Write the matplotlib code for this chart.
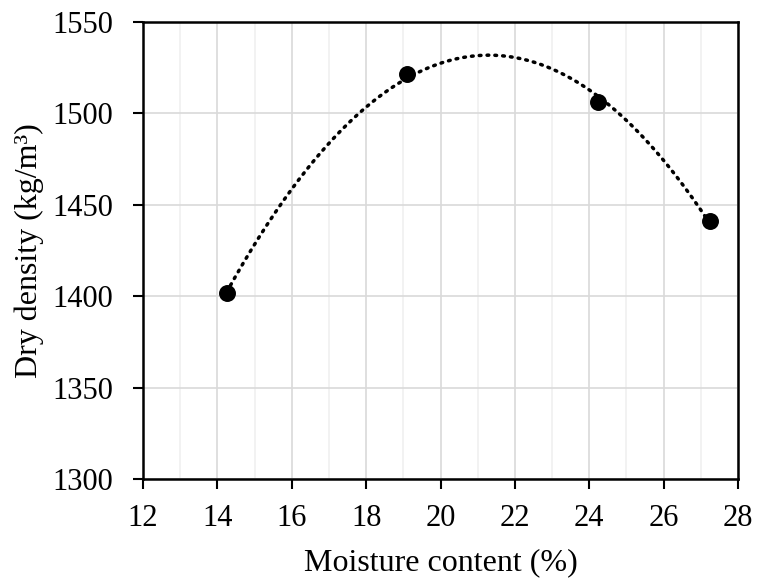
import numpy as np
import matplotlib
matplotlib.use("Agg")
import matplotlib.pyplot as plt
from matplotlib.ticker import MultipleLocator

moisture = [14.25, 19.1, 24.23, 27.25]
density = [1401.5, 1521.5, 1506.5, 1441.0]
x_ticks = [12, 14, 16, 18, 20, 22, 24, 26, 28]
y_ticks = [1300, 1350, 1400, 1450, 1500, 1550]

plt.rcParams['font.family'] = ['Liberation Serif', 'DejaVu Serif']
plt.rcParams['font.size'] = 22

fig = plt.figure(figsize=(7.57, 5.78), dpi=100)
ax = fig.add_axes([143/757, 1-479/578, (738-143)/757, (479-22)/578])

coef = np.polyfit(moisture, density, 2)
xs = np.linspace(min(moisture), max(moisture), 300)
ax.plot(xs, np.polyval(coef, xs), color='black', linestyle=(0, (0.5, 1.75)),
        linewidth=2.5, dash_capstyle='round', zorder=3)
ax.scatter(moisture, density, s=125, color='black', zorder=4)

ax.set_xlim(12, 28)
ax.set_ylim(1300, 1550)
ax.set_xticks(x_ticks)
ax.set_yticks(y_ticks)
ax.xaxis.set_minor_locator(MultipleLocator(1))
ax.grid(which='major', color='#d9d9d9', linewidth=1.2, zorder=0)
ax.grid(which='minor', axis='x', color='#f0f0f0', linewidth=1.2, zorder=0)
ax.set_axisbelow(True)
ax.tick_params(which='major', direction='out', length=7.2, width=1.5, labelsize=22)
ax.tick_params(axis='x', which='major', pad=11)
ax.tick_params(axis='y', which='major', pad=14)
ax.tick_params(which='minor', length=0)
for s in ax.spines.values():
    s.set_linewidth(1.8)
    s.set_color('black')

ax.set_xlabel('Moisture content (%)', fontsize=23, labelpad=11)
ax.set_ylabel('Dry density (kg/m³)', fontsize=23, labelpad=6)

fig.savefig('out.png', dpi=100)
